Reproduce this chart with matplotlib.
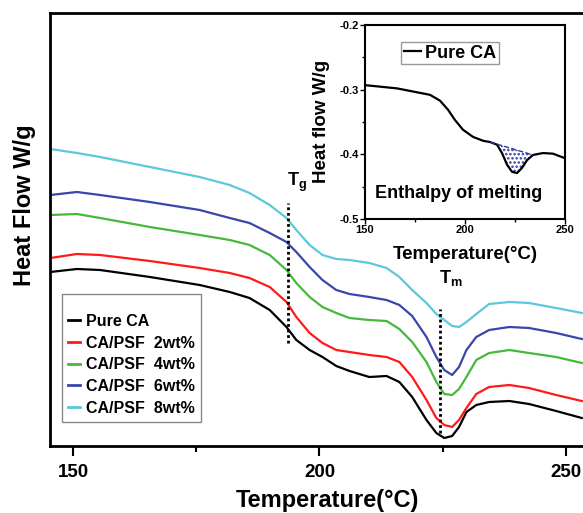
import numpy as np
import matplotlib
matplotlib.use("Agg")
import matplotlib.pyplot as plt

plt.rcParams['font.family'] = ['Liberation Sans', 'DejaVu Sans']
plt.rcParams['font.weight'] = 'bold'
plt.rcParams['axes.unicode_minus'] = False
plt.rcParams['hatch.linewidth'] = 1.2

# DSC traces (heat flow, offset a.u.)
temps = [145.4, 150.8, 155.5, 165.6, 175.7, 181.8, 185.8, 189.9, 193.3, 195.3,
         198.0, 200.6, 203.4, 206.1, 210.1, 213.6, 216.2, 218.8, 221.7, 223.7,
         225.3, 226.9, 228.3, 229.8, 231.8, 234.4, 238.5, 242.5, 248.0, 253.2]
pure_ca = [1.74, 1.77, 1.76, 1.69, 1.61, 1.54, 1.48, 1.36, 1.19, 1.06,
           0.96, 0.89, 0.80, 0.75, 0.69, 0.70, 0.64, 0.49, 0.26, 0.13,
           0.08, 0.10, 0.19, 0.34, 0.41, 0.44, 0.45, 0.42, 0.35, 0.28]
psf_2 = [1.88, 1.92, 1.91, 1.85, 1.78, 1.73, 1.68, 1.59, 1.44, 1.29,
         1.13, 1.03, 0.96, 0.94, 0.91, 0.89, 0.84, 0.69, 0.46, 0.28,
         0.21, 0.19, 0.26, 0.38, 0.52, 0.59, 0.61, 0.58, 0.51, 0.45]
psf_4 = [2.31, 2.32, 2.28, 2.19, 2.11, 2.06, 2.01, 1.91, 1.76, 1.63,
         1.49, 1.39, 1.33, 1.28, 1.26, 1.25, 1.17, 1.04, 0.84, 0.64,
         0.52, 0.51, 0.57, 0.69, 0.86, 0.93, 0.96, 0.93, 0.89, 0.83]
psf_6 = [2.51, 2.54, 2.51, 2.44, 2.36, 2.28, 2.23, 2.13, 2.04, 1.94,
         1.79, 1.66, 1.56, 1.52, 1.49, 1.46, 1.41, 1.30, 1.09, 0.89,
         0.76, 0.71, 0.79, 0.96, 1.09, 1.16, 1.19, 1.18, 1.13, 1.07]
psf_8 = [2.97, 2.93, 2.89, 2.79, 2.69, 2.61, 2.53, 2.41, 2.28, 2.16,
         2.01, 1.91, 1.87, 1.86, 1.83, 1.78, 1.69, 1.56, 1.43, 1.32,
         1.26, 1.20, 1.19, 1.24, 1.32, 1.42, 1.44, 1.43, 1.38, 1.33]

labels = ["Pure CA", "CA/PSF  2wt%", "CA/PSF  4wt%", "CA/PSF  6wt%", "CA/PSF  8wt%"]
colors = ["black", "#ff1a1a", "#46b83a", "#3847a8", "#5cc8dc"]

tg, tm = 193.6, 224.5

# inset: pure CA trace with melting enthalpy region
inset_temps = [150, 166, 182.5, 187.5, 191.5, 195, 199, 204, 209, 212.5, 216,
               218.5, 221, 223.5, 226, 228.5, 231, 234, 239, 244, 250]
inset_flow = [-0.293, -0.298, -0.308, -0.317, -0.331, -0.347, -0.362, -0.373,
              -0.379, -0.381, -0.385, -0.398, -0.416, -0.427, -0.429, -0.421,
              -0.409, -0.401, -0.398, -0.399, -0.406]
melt_start, melt_end = 212.5, 234.0

W, H = 583, 513


def fx(px):
    return px / W


def fy(py):
    return 1 - py / H


fig = plt.figure(figsize=(W / 100, H / 100), dpi=100)

ax = fig.add_axes([fx(50), fy(446), 545.6 / W, 433 / H])
series = [pure_ca, psf_2, psf_4, psf_6, psf_8]
for vals, lab, col in zip(series, labels, colors):
    ax.plot(temps, vals, color=col, lw=1.6, label=lab, solid_joinstyle="round")

ax.plot([tg, tg], [1.03, 2.43], color="black", lw=2, ls=(0, (1, 1)))
ax.plot([tm, tm], [0.13, 1.37], color="black", lw=2, ls=(0, (1, 1)))
ax.text(193.5, 2.64, r"T$_\mathregular{g}$", fontsize=13, fontweight="bold", va="center")
ax.text(224.3, 1.68, r"T$_\mathregular{m}$", fontsize=13, fontweight="bold", va="center")

ax.set_xlim(145.34, 256)
ax.set_ylim(0, 4.33)
ax.set_xticks([150, 200, 250])
ax.set_xticks([175, 225], minor=True)
ax.set_yticks([])
ax.tick_params(axis="x", which="major", direction="out", length=7.2, width=1.5,
               pad=6, labelsize=13.5)
ax.tick_params(axis="x", which="minor", direction="out", length=4.3, width=1.5)
for lbl in ax.get_xticklabels():
    lbl.set_fontweight("bold")
for sp in ax.spines.values():
    sp.set_linewidth(2)

leg = ax.legend(loc="lower left", bbox_to_anchor=(0.022, 0.055), borderaxespad=0,
                fontsize=11.5, handlelength=0.75, handletextpad=0.35, labelspacing=0.42,
                title=" ", title_fontsize=6, fancybox=False, framealpha=1,
                edgecolor="#888888", borderpad=0.4)
leg.get_frame().set_linewidth(1)
for t in leg.get_texts():
    t.set_fontweight("bold")
for h in leg.get_lines():
    h.set_linewidth(2)

fig.text(fx(327), fy(507), "Temperature(°C)", fontsize=17, fontweight="bold",
         ha="center", va="baseline")
fig.text(fx(25), fy(205), "Heat Flow W/g", fontsize=17, fontweight="bold",
         rotation=90, ha="center", va="center")

# inset
ins = fig.add_axes([fx(365), fy(219), 200 / W, 194 / H])
ins.plot(inset_temps, inset_flow, color="black", lw=1.6, label="Pure CA",
         solid_joinstyle="round")
fill_t = np.linspace(melt_start, melt_end, 60)
curve = np.interp(fill_t, inset_temps, inset_flow)
base_lo = np.interp(melt_start, inset_temps, inset_flow)
base_hi = np.interp(melt_end, inset_temps, inset_flow)
base = np.interp(fill_t, [melt_start, melt_end], [base_lo, base_hi])
ins.fill_between(fill_t, curve, base, where=curve <= base, facecolor="none",
                 edgecolor="#2a3aa8", hatch="....", lw=0)
ins.plot([melt_start, melt_end], [base_lo, base_hi], color="#2a3aa8", lw=1, ls="--")

ins.set_xlim(150, 250)
ins.set_ylim(-0.5, -0.2)
ins.set_xticks([150, 200, 250])
ins.set_xticks([175, 225], minor=True)
ins.set_yticks([-0.5, -0.4, -0.3, -0.2])
ins.set_yticklabels(["-0.5", "-0.4", "-0.3", "-0.2"])
ins.set_yticks([-0.45, -0.35, -0.25], minor=True)
ins.tick_params(which="major", direction="out", length=3.6, width=1, pad=1, labelsize=8)
ins.tick_params(which="minor", direction="out", length=2, width=1)
for lbl in ins.get_xticklabels() + ins.get_yticklabels():
    lbl.set_fontweight("bold")
for sp in ins.spines.values():
    sp.set_linewidth(1.5)

ileg = ins.legend(loc="upper left", bbox_to_anchor=(0.18, 0.912), borderaxespad=0,
                  fontsize=13, handlelength=0.95, handletextpad=0.25, borderpad=0.15,
                  fancybox=False, framealpha=1, edgecolor="#999999")
ileg.get_frame().set_linewidth(1)
for t in ileg.get_texts():
    t.set_fontweight("bold")

ins.text(0.47, 0.134, "Enthalpy of melting", transform=ins.transAxes, fontsize=13,
         fontweight="bold", ha="center", va="center")
fig.text(fx(322), fy(121), "Heat flow W/g", fontsize=13.5, fontweight="bold",
         rotation=90, ha="center", va="center")
fig.text(fx(465), fy(255), "Temperature(°C)", fontsize=13.5, fontweight="bold",
         ha="center", va="center")

fig.savefig("out.png", dpi=100, facecolor="white")
